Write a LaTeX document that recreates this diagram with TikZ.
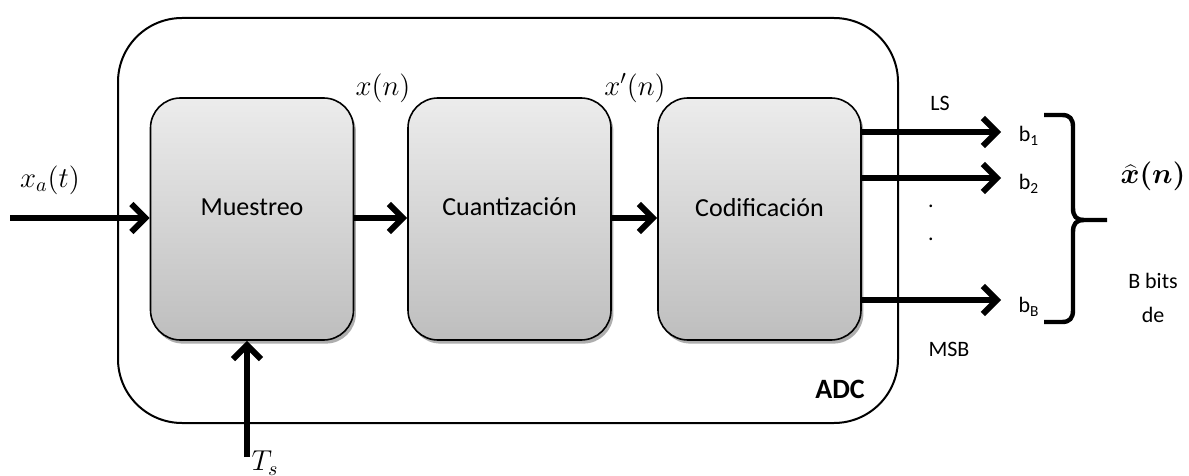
\documentclass[tikz,border=0pt]{standalone}
\usepackage{fontspec}
\setmainfont{Carlito}
\usetikzlibrary{arrows.meta,shadows}
\definecolor{boxtop}{RGB}{236,236,236}
\definecolor{boxbot}{RGB}{190,190,190}
\tikzset{
  blockbox/.style={draw=black, line width=0.8pt, rounded corners=15pt,
    top color=boxtop, bottom color=boxbot,
    minimum width=101.5pt, minimum height=121pt, inner sep=0pt,
    drop shadow={shadow xshift=1.2pt, shadow yshift=-1.8pt, fill=black!45, opacity=0.7},
    font=\fontsize{13}{15}\selectfont},
  outerbox/.style={draw=black, line width=1pt, rounded corners=32pt,
    minimum width=390pt, minimum height=202.5pt, inner sep=0pt},
  arr/.style={line width=3pt, -{Straight Barb[length=7pt,width=14pt]}},
  lbl/.style={inner sep=0pt, font=\fontsize{11}{13}\selectfont},
  mlbl/.style={inner sep=0pt, font=\fontsize{14}{16}\selectfont},
  bracestyle/.style={line width=2.2pt, line join=round}
}
\begin{document}
\begin{tikzpicture}[x=0.5pt,y=-0.5pt]
\useasboundingbox (0,0) rectangle (1189,476);
% outer ADC box
\node[outerbox] (adc) at (508,220.5) {};
\node[inner sep=0pt, font=\fontsize{14}{16}\selectfont\bfseries] (adclbl) at (840,389) {ADC};
% blocks
\node[blockbox] (mue) at (252,219) {\raisebox{12pt}{Muestreo}};
\node[blockbox] (cua) at (509.5,219) {\raisebox{12pt}{Cuantización}};
\node[blockbox] (cod) at (759.5,219) {\raisebox{12pt}{Codificación}};
% input / clock
\coordinate (in) at (10,218);
\coordinate (ts) at (247,457);
\draw[arr] (in) -- (mue.west |- in);
\draw[arr] (ts) -- (ts |- mue.south);
\draw[arr] (mue.east |- in) -- (cua.west |- in);
\draw[arr] (cua.east |- in) -- (cod.west |- in);
% outputs
\coordinate (o1) at (1001,132);
\coordinate (o2) at (1001,178);
\coordinate (oB) at (1001,300);
\draw[arr] (cod.east |- o1) -- (o1);
\draw[arr] (cod.east |- o2) -- (o2);
\draw[arr] (cod.east |- oB) -- (oB);
% labels
\node[mlbl] (xa) at (50,180) {$x_a(t)$};
\node[mlbl] (xn) at (383,88) {$x(n)$};
\node[mlbl] (xpn) at (635,88) {$x'(n)$};
\node[mlbl] (tsl) at (265,463) {$T_s$};
\node[lbl] (ls) at (940,103) {LS};
\node[lbl] (msb) at (949,349) {MSB};
\node[lbl] (b1) at (1029,136) {b\textsubscript{1}};
\node[lbl] (b2) at (1029,184) {b\textsubscript{2}};
\node[lbl] (bB) at (1029,307) {b\textsubscript{B}};
\node[lbl] (d1) at (931,206) {.};
\node[lbl] (d2) at (931,239) {.};
% brace
\coordinate (btip) at (1107,220);
\draw[bracestyle] (1044,115) -- (1062,115) .. controls (1070,115) and (1073,119) .. (1073,127) -- (1073,208) .. controls (1073,216) and (1076,220) .. (1084,220) -- (btip);
\draw[bracestyle] (1084,220) .. controls (1076,220) and (1073,224) .. (1073,232) -- (1073,310) .. controls (1073,318) and (1070,322) .. (1062,322) -- (1044,322);
\node[mlbl] (xhat) at (1153,176) {{\boldmath $\widehat{x}(n)$}};
\node[lbl] (bbits) at (1153,281) {B bits};
\node[lbl] (de) at (1153,315) {de};
\end{tikzpicture}
\end{document}
